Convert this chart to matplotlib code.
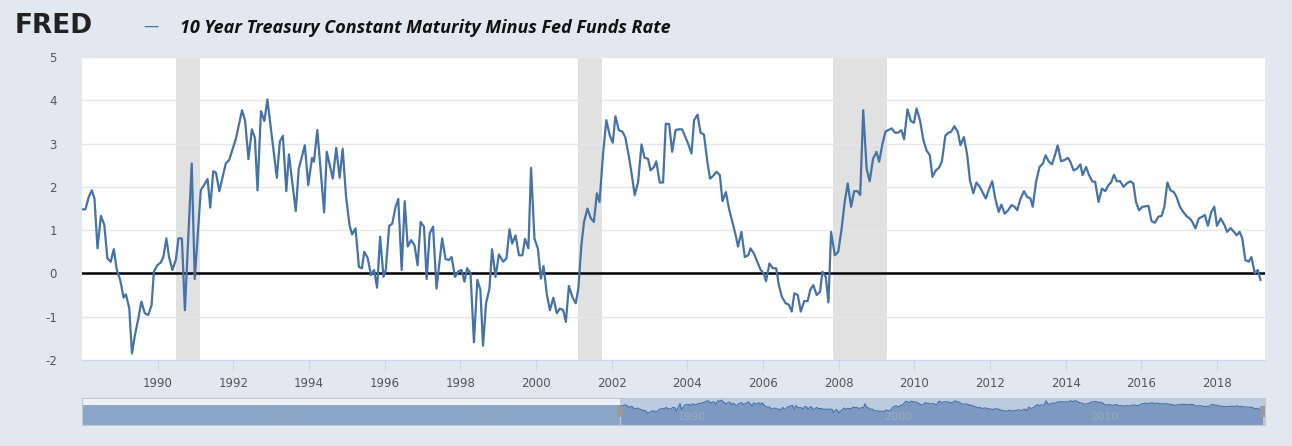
import matplotlib
matplotlib.use("Agg")
import matplotlib.pyplot as plt
import numpy as np
plt.rcParams["axes.unicode_minus"] = False

years = [1988.02,1988.09,1988.18,1988.26,1988.33,1988.41,1988.5,1988.59,1988.67,1988.76,1988.84,1988.92,1989.01,1989.1,1989.16,1989.25,1989.32,1989.4,1989.49,1989.57,1989.66,1989.75,1989.84,1989.9,1989.99,1990.08,1990.15,1990.23,1990.3,1990.39,1990.48,1990.55,1990.64,1990.72,1990.9,1990.98,1991.14,1991.32,1991.39,1991.47,1991.54,1991.63,1991.8,1991.89,1992.07,1992.23,1992.31,1992.4,1992.49,1992.57,1992.64,1992.73,1992.82,1992.9,1993.15,1993.23,1993.31,1993.4,1993.47,1993.65,1993.73,1993.89,1993.98,1994.08,1994.13,1994.22,1994.4,1994.47,1994.63,1994.72,1994.81,1994.89,1994.98,1995.07,1995.14,1995.23,1995.32,1995.4,1995.46,1995.55,1995.64,1995.72,1995.8,1995.88,1995.97,1996.03,1996.12,1996.2,1996.29,1996.36,1996.45,1996.53,1996.61,1996.7,1996.79,1996.87,1996.95,1997.04,1997.11,1997.19,1997.28,1997.37,1997.52,1997.61,1997.7,1997.77,1997.86,1997.95,1998.03,1998.11,1998.18,1998.27,1998.36,1998.45,1998.53,1998.6,1998.68,1998.77,1998.84,1998.93,1999.02,
1999.13,1999.22,1999.3,1999.37,1999.46,1999.55,1999.64,1999.71,1999.8,1999.87,1999.96,2000.05,2000.13,2000.2,2000.29,2000.37,2000.46,2000.55,2000.63,2000.72,2000.79,2000.87,2000.96,2001.05,2001.12,2001.2,2001.27,2001.36,2001.45,2001.53,2001.61,2001.68,2001.77,2001.86,2001.95,2002.03,2002.1,2002.19,2002.28,2002.36,2002.45,2002.52,2002.61,2002.7,2002.79,2002.87,2002.96,2003.03,2003.12,2003.18,2003.27,2003.36,2003.43,2003.52,2003.6,2003.69,2003.77,2003.86,2003.95,2004.02,2004.11,2004.18,2004.27,2004.35,2004.44,2004.53,2004.6,2004.68,2004.77,2004.86,2004.93,2005.02,2005.1,2005.19,2005.28,2005.34,2005.43,2005.52,2005.61,2005.67,2005.76,2005.85,2005.94,2006.02,2006.08,2006.17,2006.26,2006.35,2006.42,2006.5,2006.6,2006.68,2006.76,2006.83,2006.92,2007.0,2007.09,2007.18,2007.25,2007.33,2007.42,2007.51,2007.57,2007.66,2007.73,2007.8,2007.9,2007.99,2008.08,2008.16,2008.24,2008.33,2008.41,2008.5,2008.57,2008.65,2008.74,2008.82,2008.91,2009.0,2009.07,2009.16,2009.24,2009.4,2009.49,2009.57,2009.66,2009.73,2009.82,2009.91,2009.99,2010.06,2010.15,2010.24,2010.32,2010.41,2010.48,2010.57,2010.66,2010.73,2010.82,2010.9,2010.97,2011.06,2011.15,2011.22,2011.31,2011.4,2011.47,2011.56,2011.64,2011.73,2011.89,2011.98,2012.06,2012.14,2012.23,2012.3,2012.39,2012.48,2012.57,2012.65,2012.72,2012.81,2012.9,2012.98,2013.07,2013.13,2013.22,2013.31,2013.4,2013.47,2013.55,2013.64,2013.73,2013.79,2013.88,2013.97,2014.06,2014.12,2014.21,2014.3,2014.39,2014.45,2014.54,2014.62,2014.71,2014.78,2014.87,2014.96,2015.05,2015.13,2015.2,2015.28,2015.35,2015.44,2015.53,2015.62,2015.71,2015.79,2015.86,2015.94,2016.03,2016.19,2016.27,2016.36,2016.45,2016.54,2016.61,2016.69,2016.77,2016.86,2016.93,2017.02,2017.11,2017.2,2017.28,2017.35,2017.43,2017.52,2017.61,2017.68,2017.76,2017.85,2017.93,2018.0,2018.1,2018.18,2018.27,2018.36,2018.45,2018.52,2018.6,2018.67,2018.75,2018.84,2018.91,2019.0,2019.08,2019.15]
values = [1.48,1.48,1.77,1.92,1.73,0.58,1.33,1.12,0.35,0.27,0.56,0.08,-0.15,-0.56,-0.48,-0.81,-1.85,-1.42,-1.04,-0.65,-0.92,-0.96,-0.73,0.04,0.19,0.25,0.38,0.81,0.38,0.08,0.31,0.81,0.81,-0.85,2.54,-0.13,1.92,2.18,1.52,2.36,2.33,1.9,2.54,2.62,3.12,3.77,3.54,2.64,3.33,3.13,1.92,3.75,3.52,4.02,2.21,3.05,3.18,1.9,2.75,1.44,2.42,2.96,2.04,2.67,2.58,3.31,1.41,2.81,2.19,2.9,2.21,2.88,1.77,1.12,0.9,1.04,0.15,0.12,0.5,0.36,-0.04,0.08,-0.33,0.85,-0.08,0.08,1.1,1.15,1.54,1.72,0.08,1.67,0.62,0.77,0.65,0.19,1.19,1.08,-0.13,0.92,1.08,-0.35,0.81,0.33,0.31,0.38,-0.08,0.05,0.08,-0.19,0.12,0.0,-1.59,-0.15,-0.38,-1.67,-0.69,-0.35,0.56,-0.08,0.44,
0.27,0.35,1.02,0.69,0.88,0.42,0.42,0.8,0.58,2.44,0.8,0.58,-0.12,0.17,-0.5,-0.85,-0.56,-0.92,-0.81,-0.85,-1.12,-0.29,-0.54,-0.69,-0.35,0.65,1.19,1.5,1.27,1.19,1.85,1.65,2.73,3.54,3.19,3.02,3.63,3.31,3.28,3.15,2.73,2.35,1.81,2.12,2.98,2.67,2.65,2.38,2.46,2.59,2.1,2.1,3.46,3.45,2.81,3.31,3.33,3.33,3.15,3.0,2.77,3.54,3.67,3.25,3.21,2.58,2.19,2.25,2.35,2.27,1.67,1.88,1.5,1.19,0.88,0.62,0.96,0.38,0.42,0.58,0.46,0.27,0.08,0.0,-0.18,0.23,0.12,0.12,-0.27,-0.54,-0.69,-0.72,-0.88,-0.46,-0.5,-0.88,-0.64,-0.64,-0.38,-0.27,-0.5,-0.42,0.04,-0.08,-0.67,0.96,0.42,0.5,1.04,1.65,2.08,1.54,1.9,1.9,1.81,3.77,2.42,2.13,2.65,2.81,2.58,3.0,3.28,3.35,3.25,3.25,3.31,3.1,3.79,3.52,3.48,3.81,3.54,3.08,2.85,2.73,2.23,2.38,2.45,2.59,3.18,3.25,3.27,3.4,3.27,2.96,3.15,2.73,2.15,1.85,2.1,2.0,1.73,1.96,2.13,1.73,1.42,1.59,1.38,1.46,1.58,1.54,1.46,1.73,1.9,1.77,1.73,1.54,2.12,2.46,2.54,2.73,2.59,2.52,2.77,2.96,2.59,2.62,2.67,2.59,2.38,2.42,2.52,2.27,2.46,2.27,2.12,2.12,1.65,1.96,1.9,2.04,2.1,2.28,2.13,2.13,2.0,2.08,2.13,2.08,1.65,1.46,1.54,1.56,1.21,1.17,1.31,1.33,1.54,2.1,1.92,1.88,1.77,1.54,1.42,1.32,1.27,1.19,1.04,1.27,1.31,1.35,1.1,1.42,1.54,1.1,1.27,1.15,0.96,1.05,0.96,0.88,0.96,0.81,0.31,0.27,0.38,0.0,0.08,-0.15]
recessions = [(1990.49, 1991.11), (2001.1, 2001.75), (2007.84, 2009.28)]
xticks = list(range(1990, 2019, 2))
yticks = [-2, -1, 0, 1, 2, 3, 4, 5]
nav_labels = [1970, 1980, 1990, 2000, 2010]

BG = "#e1e8f0"
LINE = "#4572a7"
fig = plt.figure(figsize=(12.92, 4.46), dpi=100, facecolor=BG)
ax = fig.add_axes([82/1292, 1-360/446, 1183/1292, 303/446])
ax.set_facecolor("white")
for a, b in recessions:
    ax.axvspan(a, b, color="#e1e1e1", lw=0, zorder=0)
for y in yticks:
    ax.axhline(y, color="#e6e6e6", lw=1, zorder=0.5)
ax.axhline(0, color="black", lw=1.8, zorder=2)
ax.plot(years, values, color=LINE, lw=1.6, zorder=3)
ax.set_xlim(1988.0, 2019.27)
ax.set_ylim(-2, 5)
ax.set_xticks(xticks)
ax.set_yticks(yticks)
ax.tick_params(axis="x", colors="#ccd6eb", labelcolor="#555555", labelsize=8.5, length=8, pad=4)
ax.tick_params(axis="y", length=0, labelcolor="#555555", labelsize=8.5, pad=18)
for s in ["top", "right", "left"]:
    ax.spines[s].set_visible(False)
ax.spines["bottom"].set_color("#ccd6eb")

nav = fig.add_axes([82/1292, 1-425/446, 1183/1292, 27/446])
nav_x0 = 1961.9
nav.set_xlim(nav_x0, 2019.27)
nav.set_ylim(-7, 5)
nav.axvspan(nav_x0, 1988.0, color="#eef2f8", lw=0, zorder=0)
nav.axvspan(1988.0, 2019.27, color="#bccbe0", lw=0, zorder=0)
nav.fill_between([nav_x0, 1988.0], -7, 2.0, color="#8aa6c8", lw=0, zorder=1)
nav.fill_between(years, -7, values, color="#7d99c2", lw=0, zorder=1)
nav.plot(years, values, color=LINE, lw=0.8, zorder=2)
for yr in nav_labels:
    nav.text(yr + 0.8, -3.5, str(yr), color="#9aa9bd", fontsize=8, ha="left", va="center", zorder=3)
nav.plot([1988.0, 1988.0], [-3.5, 1.5], color="#999999", lw=4, solid_capstyle="butt", zorder=4)
nav.plot([2019.15, 2019.15], [-3.5, 1.5], color="#999999", lw=4, solid_capstyle="butt", zorder=4)
nav.set_xticks([]); nav.set_yticks([])
for s in nav.spines.values():
    s.set_color("#c0c8d8")

fig.text(15/1292, 1-26/446, "FRED", fontsize=19, fontweight="bold", color="#222222", va="center", family="DejaVu Sans")
fig.text(143/1292, 1-26/446, "—", fontsize=11, color=LINE, va="center")
fig.text(180/1292, 1-28/446, "10 Year Treasury Constant Maturity Minus Fed Funds Rate",
         fontsize=13, fontweight="bold", fontstyle="italic", color="#111111", va="center", family="Open Sans")
fig.savefig("out.png", dpi=100, facecolor=BG)
